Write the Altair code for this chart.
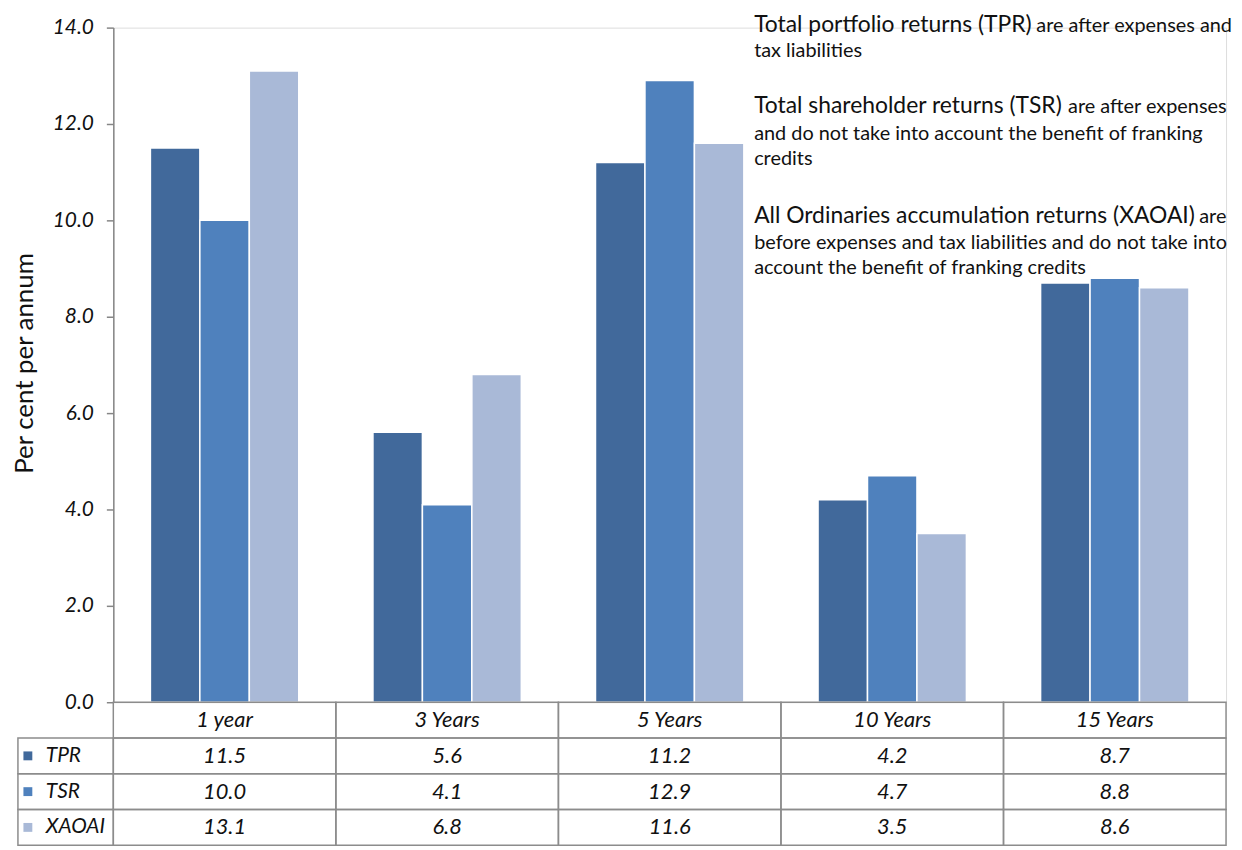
import altair as alt
import pandas as pd

# ---- data ----
categories = ["1 year", "3 Years", "5 Years", "10 Years", "15 Years"]
series = ["TPR", "TSR", "XAOAI"]
tpr = [11.5, 5.6, 11.2, 4.2, 8.7]
tsr = [10.0, 4.1, 12.9, 4.7, 8.8]
xaoai = [13.1, 6.8, 11.6, 3.5, 8.6]
colors = ["#41699B", "#4F81BD", "#A9B9D7"]
y_ticks = [0, 2, 4, 6, 8, 10, 12, 14]

note_heads = ["Total portfolio returns (TPR)",
              "Total shareholder returns (TSR)",
              "All Ordinaries accumulation returns (XAOAI)"]
note_tails = ["are after expenses and", "are after expenses", "are"]
note_lines = ["tax liabilities",
              "and do not take into account the benefit of franking",
              "credits",
              "before expenses and  tax liabilities and do not take into",
              "account the benefit of franking credits"]

# ---- tables built from the arrays ----
values = {"TPR": tpr, "TSR": tsr, "XAOAI": xaoai}
df = pd.DataFrame([
    {"category": c, "series": s, "value": values[s][i]}
    for i, c in enumerate(categories) for s in series
])
HDR = " "
rows = [HDR] + series
tbl = pd.DataFrame(
    [{"category": c, "row": HDR, "text": c} for c in categories] +
    [{"category": c, "row": s, "text": f"{values[s][i]:.1f}"}
     for i, c in enumerate(categories) for s in series]
)
lab = pd.DataFrame({"row": series})

FONT = "Lato"
W, H = 1120, 679
GRID = "#8C8C8C"
TXT = "#111111"

x_scale = alt.Scale(domain=categories, paddingInner=0, paddingOuter=0)
color_scale = alt.Scale(domain=series, range=colors)
row_scale = alt.Scale(domain=rows, range=[H, H + 144], paddingInner=0, paddingOuter=0)

bars = alt.Chart(df).mark_bar(stroke="white", strokeWidth=1.5).encode(
    x=alt.X("category:N", scale=x_scale, sort=categories, axis=None),
    xOffset=alt.XOffset("series:N", sort=series,
                        scale=alt.Scale(domain=series, paddingInner=0, paddingOuter=0.75)),
    y=alt.Y("value:Q", scale=alt.Scale(domain=[0, 14], nice=False),
            axis=alt.Axis(values=y_ticks, format=".1f", title="Per cent per annum",
                          grid=False, domainColor="#868686", domainWidth=1.5,
                          tickColor="#868686", tickWidth=1.5, tickSize=7,
                          labelPadding=13, labelFont=FONT, labelFontSize=21,
                          labelFontStyle="italic", labelColor=TXT,
                          titleFont=FONT, titleFontSize=26, titleFontWeight="normal",
                          titleColor=TXT, titleX=-89, titleY=H / 2 - 2,
                          titleAngle=270, titleAlign="center", titleBaseline="middle")),
    color=alt.Color("series:N", scale=color_scale, legend=None),
)

cells = alt.Chart(tbl).mark_rect(fillOpacity=0, stroke=GRID, strokeWidth=1.5).encode(
    x=alt.X("category:N", scale=x_scale, sort=categories, axis=None),
    y=alt.Y("row:N", scale=row_scale, axis=None),
)
cell_text = alt.Chart(tbl).mark_text(font=FONT, fontSize=22, fontStyle="italic",
                                     color=TXT, baseline="middle").encode(
    x=alt.X("category:N", scale=x_scale, sort=categories, axis=None),
    y=alt.Y("row:N", scale=row_scale, axis=None),
    text="text:N",
)
lab_cells = alt.Chart(lab).mark_rect(fillOpacity=0, stroke=GRID, strokeWidth=1.5).encode(
    x=alt.value(-96), x2=alt.value(0),
    y=alt.Y("row:N", scale=row_scale, axis=None),
)
lab_sq = alt.Chart(lab).mark_square(size=80, opacity=1).encode(
    x=alt.value(-86),
    y=alt.Y("row:N", scale=row_scale, axis=None),
    color=alt.Color("row:N", scale=color_scale, legend=None),
)
lab_text = alt.Chart(lab).mark_text(font=FONT, fontSize=21, fontStyle="italic",
                                    color=TXT, align="left", baseline="middle").encode(
    x=alt.value(-68),
    y=alt.Y("row:N", scale=row_scale, axis=None),
    text="row:N",
)
table = alt.layer(cells, cell_text, lab_cells, lab_sq, lab_text)

# ---- annotation text (layout positions) ----
one = pd.DataFrame({"k": [0]})
def note(text, x, y, size, weight="normal"):
    return alt.Chart(one).mark_text(text=text, font=FONT, fontSize=size, fontWeight=weight,
                                    color=TXT, align="left",
                                    baseline="alphabetic").encode(
        x=alt.value(x), y=alt.value(y))

NX = 645
HS, TS = 23, 20
notes = [
    note(note_heads[0], NX, 4, HS),
    note(note_tails[0], 929, 4, TS),
    note(note_lines[0], NX, 30, TS),
    note(note_heads[1], NX, 86, HS),
    note(note_tails[1], 961, 86, TS),
    note(note_lines[1], NX, 113, TS),
    note(note_lines[2], NX, 138, TS),
    note(note_heads[2], NX, 197, HS),
    note(note_tails[2], 1093, 197, TS),
    note(note_lines[3], NX, 223, TS),
    note(note_lines[4], NX, 248, TS),
]

chart = alt.layer(bars, table, *notes).resolve_scale(y="independent").properties(
    width=W, height=H,
    autosize=alt.AutoSizeParams(type="none"),
    padding={"left": 106, "top": 17, "right": 8, "bottom": 146},
).configure_view(stroke=None).configure(background="white")

chart.save("out.html", embed_options={"renderer": "svg", "actions": False})
